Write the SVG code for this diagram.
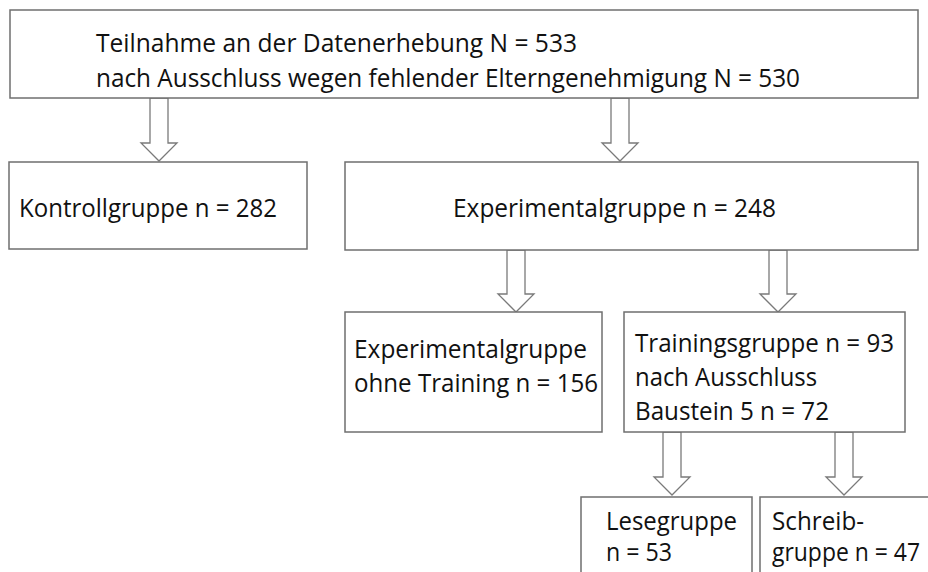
<svg xmlns="http://www.w3.org/2000/svg" width="928" height="572" viewBox="0 0 928 572">
<style>
.box{fill:#fff;stroke:#6f6f6f;stroke-width:1.5}
.arr{fill:#fff;stroke:#7a7a7a;stroke-width:1.3;stroke-linejoin:miter}
text{font-family:"Open Sans","Noto Sans",sans-serif;font-size:25px;fill:#111}
</style>
<rect width="928" height="572" fill="#fff"/>
<g id="connectors">
<polygon class="arr" points="150,98 168,98 168,143 177,143 159,161 141,143 150,143"/>
<polygon class="arr" points="611,98 629,98 629,143 638,143 620,161 602,143 611,143"/>
<polygon class="arr" points="507,250 525,250 525,294 534,294 516,312 498,294 507,294"/>
<polygon class="arr" points="769,250 787,250 787,294 796,294 778,312 760,294 769,294"/>
<polygon class="arr" points="663,432 681,432 681,477 690,477 672,495 654,477 663,477"/>
<polygon class="arr" points="835,432 853,432 853,477 862,477 844,495 826,477 835,477"/>
</g>
<g id="n_top">
<rect class="box" x="10" y="10" width="908" height="88"/>
<text x="96" y="52" textLength="481" lengthAdjust="spacingAndGlyphs">Teilnahme an der Datenerhebung N = 533</text>
<text x="96" y="87" textLength="704" lengthAdjust="spacingAndGlyphs">nach Ausschluss wegen fehlender Elterngenehmigung N = 530</text>
</g>
<g id="n_kontroll">
<rect class="box" x="9" y="162" width="298" height="87"/>
<text x="19" y="217" textLength="258" lengthAdjust="spacingAndGlyphs">Kontrollgruppe n = 282</text>
</g>
<g id="n_exp">
<rect class="box" x="345" y="162" width="573" height="88"/>
<text x="453" y="217" textLength="323" lengthAdjust="spacingAndGlyphs">Experimentalgruppe n = 248</text>
</g>
<g id="n_ohne">
<rect class="box" x="345" y="312" width="257" height="120"/>
<text x="354" y="358" textLength="233" lengthAdjust="spacingAndGlyphs">Experimentalgruppe</text>
<text x="354" y="392" textLength="244" lengthAdjust="spacingAndGlyphs">ohne Training n = 156</text>
</g>
<g id="n_training">
<rect class="box" x="624" y="312" width="281" height="120"/>
<text x="635" y="352" textLength="259" lengthAdjust="spacingAndGlyphs">Trainingsgruppe n = 93</text>
<text x="635" y="386" textLength="182" lengthAdjust="spacingAndGlyphs">nach Ausschluss</text>
<text x="635" y="420" textLength="194" lengthAdjust="spacingAndGlyphs">Baustein 5 n = 72</text>
</g>
<g id="n_lese">
<rect class="box" x="581" y="497" width="171" height="90"/>
<text x="606" y="530" textLength="131" lengthAdjust="spacingAndGlyphs">Lesegruppe</text>
<text x="606" y="561" textLength="66" lengthAdjust="spacingAndGlyphs">n = 53</text>
</g>
<g id="n_schreib">
<rect class="box" x="760" y="497" width="180" height="90"/>
<text x="772" y="530" textLength="92" lengthAdjust="spacingAndGlyphs">Schreib-</text>
<text x="772" y="561" font-size="24" textLength="148" lengthAdjust="spacingAndGlyphs">gruppe n = 47</text>
</g>
</svg>
